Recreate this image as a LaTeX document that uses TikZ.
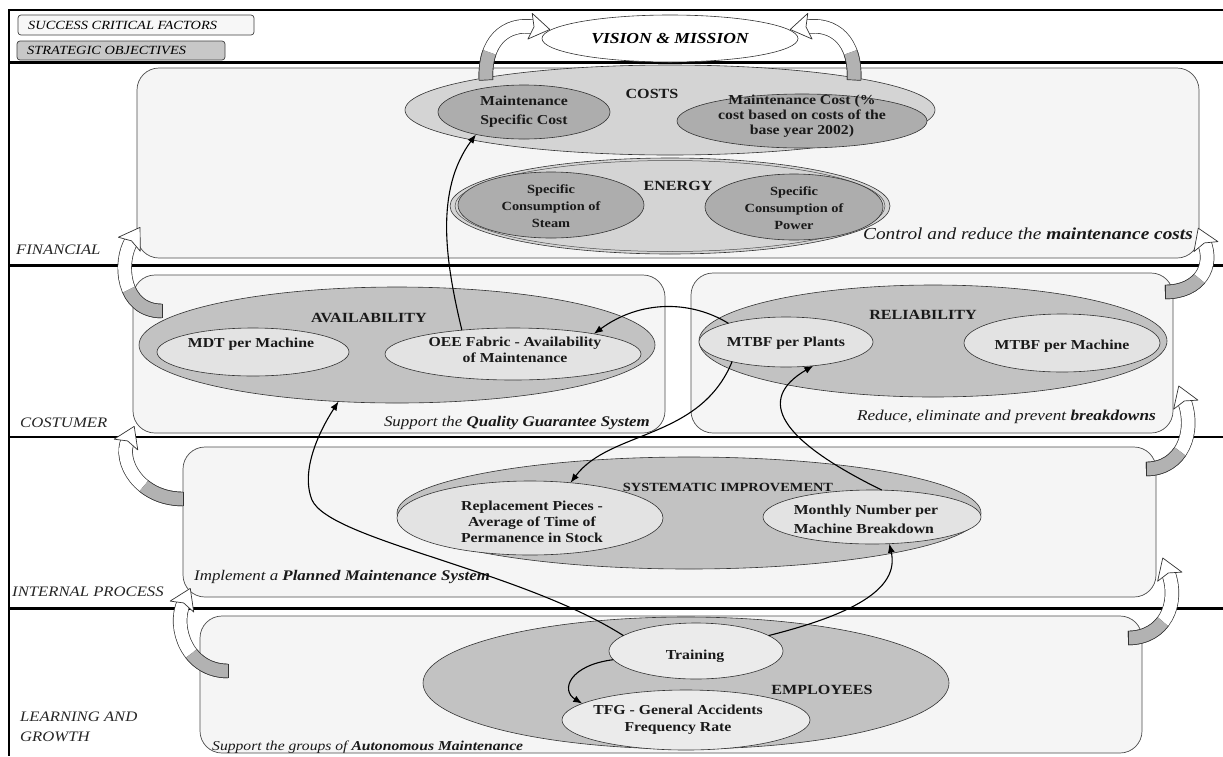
\documentclass[tikz,border=0pt]{standalone}
\usepackage{fontspec}
\setmainfont{Liberation Serif}[FakeStretch=1.15]
\usetikzlibrary{calc,arrows.meta,shapes.geometric}

\newcommand\lblfont{\fontsize{13.7}{16}\selectfont\bfseries}
\newcommand\smallfont{\fontsize{12.5}{16.8}\selectfont\bfseries}
\newcommand\catfont{\fontsize{14}{16}\selectfont\bfseries}
\newcommand\perspfont{\fontsize{14.5}{20}\selectfont\itshape}
\newcommand\notefont{\fontsize{14.7}{16}\selectfont\itshape}
\newcommand\bignotefont{\fontsize{16.8}{18}\selectfont\itshape}
\newcommand\keyfont{\fontsize{12.5}{14}\selectfont\itshape}
\newcommand\visionfont{\fontsize{15.3}{18}\selectfont\bfseries\itshape}

% curved block arrow: tail, control 1, control 2, head base, length of shaded tail
\newcommand\blockcurve[5]{%
  \draw[band] (#1) .. controls (#2) and (#3) .. (#4);
  \draw[bandtail, dash pattern=on #5pt off 2000pt] (#1) .. controls (#2) and (#3) .. (#4);
  \draw[bandhead] ($(#1)!7pt!90:(#2)$) -- ($(#1)!7pt!-90:(#2)$);
  \coordinate (hback) at ($(#4)!5pt!(#3)$);
  \draw[bandhead] ($(hback)!13pt!90:(#3)$) -- ($(#4)!-15pt!(#3)$)
     -- ($(hback)!13pt!-90:(#3)$) -- ($(#4)!1pt!(#3)$) -- cycle;
}

\begin{document}
\begin{tikzpicture}[x=1pt,y=-1pt,
  panel/.style={draw=black!70, line width=0.7pt, fill=black!4, rounded corners=22pt},
  sepline/.style={line width=2.2pt, draw=black},
  oval/.style={ellipse, draw=black!80, line width=0.6pt, inner sep=0pt, outer sep=0pt},
  outerA/.style={oval, fill=black!17},
  innerA/.style={oval, fill=black!32},
  outerB/.style={oval, fill=black!24},
  innerB/.style={oval, fill=black!11},
  lbl/.style={font=\lblfont, align=center, inner sep=0pt, text=black!90},
  cat/.style={font=\catfont, inner sep=0pt, text=black!90},
  persp/.style={font=\perspfont, inner sep=0pt, anchor=west, align=left, text=black!85},
  note/.style={font=\notefont, inner sep=0pt, text=black!90},
  keybox/.style={draw=black!75, line width=0.7pt, rounded corners=3pt},
  conn/.style={draw=black, line width=1.1pt, -{Latex[length=9pt,width=7pt]}},
  band/.style={draw=black!80, line width=0.7pt, double=white, double distance=13pt},
  bandtail/.style={band, double=black!30},
  bandhead/.style={draw=black!80, line width=0.7pt, fill=white, line join=round}
]
\useasboundingbox (0,0) rectangle (1223,756);
\fill[white] (0,0) rectangle (1223,756);

% frame and perspective separators
\draw[line width=1.5pt] (1223,10) -- (9,10) -- (9,756);
\draw[sepline] (9,62.5) -- (1223,62.5);
\draw[sepline] (9,265.5) -- (1223,265.5);
\draw[sepline] (9,437) -- (1223,437);
\draw[sepline] (9,608.5) -- (1223,608.5);

% key
\draw[keybox, fill=black!3] (18,15) rectangle (254,35);
\draw[keybox, fill=black!22] (17,41) rectangle (225,60);
\node[font=\keyfont, inner sep=0pt, anchor=west] (k1) at (28,25) {SUCCESS CRITICAL FACTORS};
\node[font=\keyfont, inner sep=0pt, anchor=west] (k2) at (27,50.5) {STRATEGIC OBJECTIVES};

% perspective panels
\draw[panel] (137,68) rectangle (1199,258);
\draw[panel] (133,275) rectangle (665,433);
\draw[panel] (691,273) rectangle (1173,433);
\draw[panel] (183,447) rectangle (1156,597);
\draw[panel] (200,616) rectangle (1142,753);

% perspective names
\node[persp] (pfin) at (16,250) {FINANCIAL};
\node[persp] (pcos) at (20,423) {COSTUMER};
\node[persp] (pint) at (12,592) {INTERNAL PROCESS};
\node[persp] (plrn) at (20,727) {LEARNING AND\\GROWTH};

% financial
\node[outerA, minimum width=530pt, minimum height=90pt] (costs) at (670,110) {};
\node[innerA, minimum width=172pt, minimum height=54pt] (mspec) at (524,112) {};
\node[innerA, minimum width=250pt, minimum height=54pt] (mcost) at (802,121) {};
\node[cat] (costst) at (652,94) {COSTS};
\node[lbl, font=\fontsize{13.7}{19}\selectfont\bfseries] (mspect) at (524,112) {Maintenance\\Specific Cost};
\node[lbl, font=\fontsize{13.7}{15}\selectfont\bfseries] (mcostt) at (802,116) {Maintenance Cost (\%\\cost based on costs of the\\base year 2002)};

\node[outerA, minimum width=440pt, minimum height=96pt] (energy) at (670,206) {};
\draw[black!70, line width=0.5pt] (energy.center) ellipse [x radius=215pt, y radius=45.5pt];
\node[innerA, minimum width=186pt, minimum height=66pt] (steam) at (551,205) {};
\node[innerA, minimum width=178pt, minimum height=66pt] (power) at (794,207) {};
\node[cat] (energyt) at (678,186) {ENERGY};
\node[lbl, font=\smallfont] (steamt) at (551,206) {Specific\\Consumption of\\Steam};
\node[lbl, font=\smallfont] (powert) at (794,208) {Specific\\Consumption of\\Power};
\node[note, font=\bignotefont, anchor=east] (nfin) at (1193,234) {Control and reduce the \textbf{maintenance costs}};

% customer
\node[outerB, minimum width=516pt, minimum height=116pt] (avail) at (397,345) {};
\node[innerB, minimum width=192pt, minimum height=48pt] (mdt) at (253,352) {};
\node[innerB, minimum width=256pt, minimum height=52pt] (oee) at (513,354) {};
\node[cat] (availt) at (369,318) {AVAILABILITY};
\node[lbl] (mdtt) at (251,344) {MDT per Machine};
\node[lbl] (oeet) at (515,350) {OEE Fabric - Availability\\of Maintenance};
\node[note, anchor=east] (ncos) at (650,423) {Support the \textbf{Quality Guarantee System}};

\node[outerB, minimum width=468pt, minimum height=112pt] (rel) at (933,341) {};
\node[innerB, minimum width=174pt, minimum height=50pt] (mtbfp) at (786,342) {};
\node[innerB, minimum width=196pt, minimum height=58pt] (mtbfm) at (1062,343) {};
\node[cat] (relt) at (923,315) {RELIABILITY};
\node[lbl] (mtbfpt) at (786,343) {MTBF per Plants};
\node[lbl] (mtbfmt) at (1062,346) {MTBF per Machine};
\node[note, font=\fontsize{15}{16}\selectfont\itshape, anchor=east] (nrel) at (1156,417) {Reduce, eliminate and prevent \textbf{breakdowns}};

% internal process
\node[outerB, minimum width=584pt, minimum height=112pt] (sysimp) at (689,513) {};
\node[innerB, minimum width=266pt, minimum height=74pt] (repl) at (530,518) {};
\node[innerB, minimum width=218pt, minimum height=54pt] (month) at (872,517) {};
\node[cat, font=\fontsize{12.5}{15}\selectfont\bfseries] (sysimpt) at (728,487) {SYSTEMATIC IMPROVEMENT};
\node[lbl] (replt) at (532,522) {Replacement Pieces -\\Average of Time of\\Permanence in Stock};
\node[lbl, align=left, font=\fontsize{13.7}{19}\selectfont\bfseries] (montht) at (866,519) {Monthly Number per\\Machine Breakdown};
\node[note, anchor=west] (nint) at (194,577) {Implement a \textbf{Planned Maintenance System}};

% learning and growth
\node[outerB, minimum width=526pt, minimum height=132pt] (emp) at (686,683) {};
\node[innerB, fill=black!8, minimum width=174pt, minimum height=56pt] (train) at (696,651) {};
\node[innerB, fill=black!8, minimum width=248pt, minimum height=60pt] (tfg) at (686,720) {};
\node[cat] (empt) at (822,690) {EMPLOYEES};
\node[lbl] (traint) at (695,656) {Training};
\node[lbl, font=\fontsize{13.7}{17}\selectfont\bfseries] (tfgt) at (678,720) {TFG - General Accidents\\Frequency Rate};
\node[note, font=\fontsize{13.6}{16}\selectfont\itshape, anchor=west] (nlrn) at (212,747) {Support the groups of \textbf{Autonomous Maintenance}};

% cause and effect links
\draw[conn] (oee.155) .. controls (445,260) and (435,190) .. (mspec.205);
\draw[conn] (mtbfp.162) .. controls (690,300) and (640,300) .. (oee.14);
\draw[conn] (train.168) .. controls (520,570) and (330,540) .. (312,500)
            .. controls (300,470) and (320,430) .. (avail.224);
\draw[conn] (mtbfp.200) .. controls (700,440) and (610,430) .. (repl.41);
\draw[conn] (train.12) .. controls (850,615) and (900,590) .. (month.303);
\draw[conn] (month.70) .. controls (780,440) and (755,400) .. (mtbfp.319);
\draw[conn] (train.186) .. controls (570,665) and (560,690) .. (tfg.171);

% vision
\node[oval, fill=white, minimum width=256pt, minimum height=47pt] (vision) at (670,38.5) {};
\node[font=\visionfont, inner sep=0pt] (visiont) at (670,38.5) {VISION \& MISSION};

% curved block arrows between perspectives
\blockcurve{486,80}{484,42}{505,22}{535,27}{28}
\blockcurve{854,80}{856,42}{835,22}{805,27}{28}
\blockcurve{162,311}{122,311}{118,262}{132,240}{42}
\blockcurve{183,499}{140,499}{118,462}{128,440}{42}
\blockcurve{228,671}{188,671}{172,628}{184,602}{42}
\blockcurve{1165,292}{1200,292}{1214,266}{1204,242}{38}
\blockcurve{1146,469}{1182,469}{1196,432}{1184,400}{40}
\blockcurve{1128,638}{1164,638}{1180,604}{1168,572}{40}
\end{tikzpicture}
\end{document}
